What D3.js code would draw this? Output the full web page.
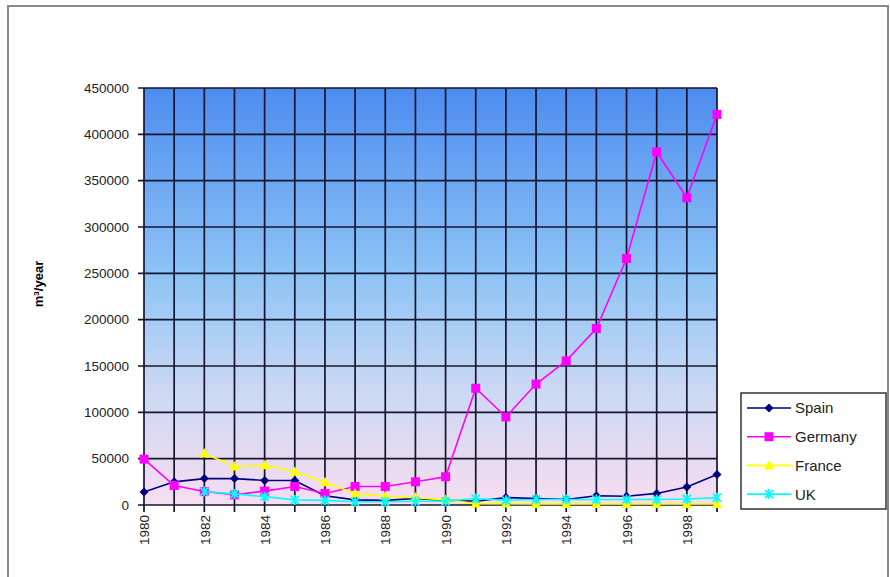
<!DOCTYPE html>
<html>
<head>
<meta charset="utf-8">
<script src="https://cdn.jsdelivr.net/npm/d3@7"></script>
<style>
  body { margin: 0; background: white; }
  svg { font-family: "Liberation Sans", Arial, sans-serif; }
</style>
</head>
<body>
<svg id="chart" width="890" height="577"></svg>
<script>
// Data
var years = d3.range(1980, 2000)
var spain = [14000, 25000, 28500, 28500, 26500, 26500, 10000, 5500, 5000, 7000, 5000, 4000, 8000, 7000, 6000, 10000, 9500, 12500, 19500, 33000]
var germany = [49500, 21000, 14500, 11000, 15000, 20000, 12500, 20000, 20000, 25000, 30500, 126000, 95000, 130500, 155500, 190500, 266000, 381000, 331500, 421500]
var france = [null, null, 55500, 41500, 43000, 36000, 24500, 12500, 9500, 8000, 5500, 1500, 1500, 1000, 1000, 1000, 1000, 1000, 1000, 1000]
var uk = [null, null, 14500, 12000, 9000, 5500, 5000, 3500, 3500, 4000, 4000, 7000, 5000, 6000, 6000, 6000, 6000, 6000, 6500, 8000]
var yTicks = d3.range(0, 450001, 50000)

var series = [
    {name: "Spain", values: spain, color: "#000080", marker: "diamond"},
    {name: "Germany", values: germany, color: "#ff00ff", marker: "square"},
    {name: "France", values: france, color: "#ffff00", marker: "triangle"},
    {name: "UK", values: uk, color: "#00ffff", marker: "cross"}
]

var dimensions = {
    width: 890,
    height: 577,
    margin: {top: 88, bottom: 72, left: 144, right: 173}
}
var plotW = dimensions.width - dimensions.margin.left - dimensions.margin.right
var plotH = dimensions.height - dimensions.margin.top - dimensions.margin.bottom

var svg = d3.select("#chart")

// outer frame
svg.append("rect")
    .attr("x", 8).attr("y", 6)
    .attr("width", 880).attr("height", 580)
    .attr("fill", "white")
    .attr("stroke", "#8a8a8a")
    .attr("stroke-width", 2)

// background gradient
var grad = svg.append("defs").append("linearGradient")
    .attr("id", "bg").attr("x1", 0).attr("y1", 0).attr("x2", 0).attr("y2", 1)
grad.append("stop").attr("offset", "0%").attr("stop-color", "#4d8cf0")
grad.append("stop").attr("offset", "45%").attr("stop-color", "#8ec4f5")
grad.append("stop").attr("offset", "72%").attr("stop-color", "#cad8f3")
grad.append("stop").attr("offset", "100%").attr("stop-color", "#f8ddf0")

var x = d3.scaleLinear()
    .domain([1980, 1999])
    .range([dimensions.margin.left, dimensions.margin.left + plotW])
var y = d3.scaleLinear()
    .domain([0, 450000])
    .range([dimensions.margin.top + plotH, dimensions.margin.top])

svg.append("rect")
    .attr("x", x(1980)).attr("y", y(450000))
    .attr("width", x(1999) - x(1980)).attr("height", y(0) - y(450000))
    .attr("fill", "url(#bg)")

// grid lines
svg.append("g")
    .selectAll("line")
    .data(years)
    .join("line")
    .attr("x1", d => x(d)).attr("x2", d => x(d))
    .attr("y1", y(450000)).attr("y2", y(0) + 7)
    .attr("stroke", "#151530")
    .attr("stroke-width", 1.7)
svg.append("g")
    .selectAll("line")
    .data(yTicks)
    .join("line")
    .attr("x1", x(1980) - 6).attr("x2", x(1999))
    .attr("y1", d => y(d)).attr("y2", d => y(d))
    .attr("stroke", "#151530")
    .attr("stroke-width", 1.7)

// y axis labels
var yAxis = svg.append("g")
    .attr("transform", `translate(${x(1980)},0)`)
    .call(d3.axisLeft(y).tickValues(yTicks).tickFormat(d3.format("d")).tickSize(6).tickPadding(9))
yAxis.select(".domain").remove()
yAxis.selectAll(".tick line").remove()
yAxis.selectAll("text")
    .style("font-size", "13.5px")
    .attr("fill", "#222")

// x axis labels, every second year
var xAxis = svg.append("g")
    .attr("transform", `translate(0,${y(0)})`)
    .call(d3.axisBottom(x).tickValues(years.filter(d => d % 2 == 0)).tickFormat(d3.format("d")).tickSize(0))
xAxis.select(".domain").remove()
xAxis.selectAll("text")
    .attr("transform", "rotate(-90)")
    .attr("x", -10).attr("y", 0).attr("dy", "0.35em")
    .style("text-anchor", "end")
    .style("font-size", "13.5px")
    .attr("fill", "#222")

// y axis title
svg.append("text")
    .attr("transform", "translate(43,284) rotate(-90)")
    .style("text-anchor", "middle")
    .style("font-size", "13px")
    .style("font-weight", "bold")
    .html("m<tspan baseline-shift='super' font-size='8px'>3</tspan>/year")

// marker drawing
function marker(g, type, color) {
    if (type == "diamond") {
        g.append("path").attr("d", "M0,-4.5L4.5,0L0,4.5L-4.5,0Z").attr("fill", color)
    } else if (type == "square") {
        g.append("rect").attr("x", -4.5).attr("y", -4.5).attr("width", 9).attr("height", 9).attr("fill", color)
    } else if (type == "triangle") {
        g.append("path").attr("d", "M0,-5.5L5,4L-5,4Z").attr("fill", color)
    } else {
        g.append("path").attr("d", "M-4,-4L4,4M-4,4L4,-4M0,-5L0,5").attr("stroke", color).attr("stroke-width", 1.8)
    }
}

var line = d3.line()
    .defined(d => d.v != null)
    .x(d => x(d.year))
    .y(d => y(d.v))

series.forEach(s => {
    var pts = years.map((yr, i) => ({year: yr, v: s.values[i]}))
    svg.append("path")
        .datum(pts)
        .attr("d", line)
        .attr("fill", "none")
        .attr("stroke", s.color)
        .attr("stroke-width", 1.6)
    pts.filter(d => d.v != null).forEach(d => {
        var g = svg.append("g").attr("transform", `translate(${x(d.year)},${y(d.v)})`)
        marker(g, s.marker, s.color)
    })
})

// legend
var legend = svg.append("g").attr("transform", "translate(741,393)")
legend.append("rect")
    .attr("width", 145).attr("height", 116)
    .attr("fill", "white")
    .attr("stroke", "#333")
    .attr("stroke-width", 1.5)
series.forEach((s, i) => {
    var ly = 15 + i * 28.7
    legend.append("line")
        .attr("x1", 6).attr("x2", 50)
        .attr("y1", ly).attr("y2", ly)
        .attr("stroke", s.color)
        .attr("stroke-width", 1.6)
    var g = legend.append("g").attr("transform", `translate(28,${ly})`)
    marker(g, s.marker, s.color)
    legend.append("text")
        .attr("x", 54).attr("y", ly).attr("dy", "0.36em")
        .style("font-size", "15px")
        .attr("fill", "#222")
        .text(s.name)
})
</script>
</body>
</html>
